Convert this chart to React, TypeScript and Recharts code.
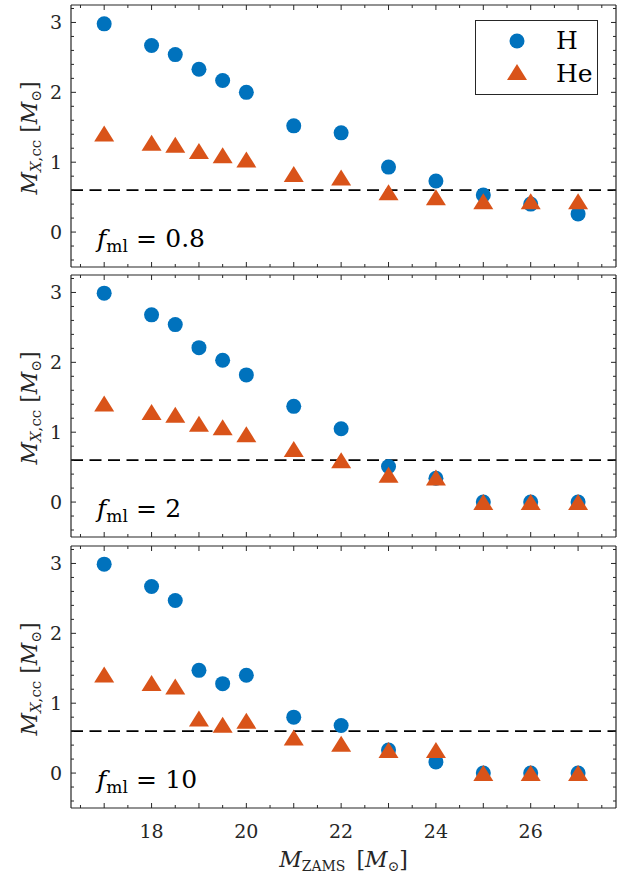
import React from 'react';
import { ScatterChart, Scatter, XAxis, YAxis, ReferenceLine, Legend } from 'recharts';

// ---------- data ----------
const masses = [17, 18, 18.5, 19, 19.5, 20, 21, 22, 23, 24, 25, 26, 27];

const hFml08 = [2.98, 2.67, 2.54, 2.33, 2.17, 2.0, 1.52, 1.42, 0.93, 0.73, 0.53, 0.4, 0.26];
const heFml08 = [1.41, 1.28, 1.25, 1.16, 1.1, 1.04, 0.83, 0.78, 0.57, 0.5, 0.44, 0.44, 0.44];

const hFml2 = [2.99, 2.68, 2.54, 2.21, 2.03, 1.82, 1.37, 1.05, 0.51, 0.34, 0, 0, 0];
const heFml2 = [1.41, 1.29, 1.25, 1.12, 1.07, 0.97, 0.76, 0.6, 0.39, 0.35, 0, 0, 0];

const hFml10 = [2.99, 2.67, 2.47, 1.47, 1.28, 1.4, 0.8, 0.68, 0.33, 0.16, 0, 0, 0];
const heFml10 = [1.41, 1.29, 1.24, 0.78, 0.69, 0.75, 0.51, 0.42, 0.33, 0.33, 0, 0, 0];

const fmlValues = ['0.8', '2', '10'];
const seriesNames = ['H', 'He'];
const threshold = 0.6;

const xDomain = [16.3, 27.8];
const yDomain = [-0.5, 3.25];
const xTicks = [16.5, 17, 17.5, 18, 18.5, 19, 19.5, 20, 20.5, 21, 21.5, 22, 22.5, 23, 23.5, 24, 24.5, 25, 25.5, 26, 26.5, 27, 27.5];
const xTickLabels = [18, 20, 22, 24, 26];
const yTicks = [-0.4, -0.2, 0, 0.2, 0.4, 0.6, 0.8, 1, 1.2, 1.4, 1.6, 1.8, 2, 2.2, 2.4, 2.6, 2.8, 3, 3.2];
const yTickLabels = [0, 1, 2, 3];

// ---------- style ----------
const AX = '#262626';
const BLUE = '#0072BD';
const ORANGE = '#D95319';
const FONT = 'DejaVu Serif';

const isMajor = (v: number) => Math.abs(v - Math.round(v)) < 1e-6;

const CircleShape = (p: any) => <circle cx={p.cx} cy={p.cy} r={7.5} fill={BLUE} />;
const TriShape = (p: any) => (
  <polygon
    points={`${p.cx},${p.cy - 8} ${p.cx + 10},${p.cy + 8} ${p.cx - 10},${p.cy + 8}`}
    fill={ORANGE}
  />
);

const XTick = (p: any, side: 'bottom' | 'top', showLabels: boolean) => {
  const v = p.payload.value;
  const len = isMajor(v) ? 5 : 3;
  const dir = side === 'bottom' ? -1 : 1;
  return (
    <g>
      <line x1={p.x} x2={p.x} y1={p.y} y2={p.y + dir * len} stroke={AX} strokeWidth={1} />
      {showLabels && xTickLabels.some((t) => Math.abs(t - v) < 1e-6) && (
        <text x={p.x} y={p.y + 30} textAnchor="middle" fontSize={19} fill={AX} fontFamily={FONT}>
          {v}
        </text>
      )}
    </g>
  );
};

const YTick = (p: any, side: 'left' | 'right') => {
  const v = p.payload.value;
  const len = isMajor(v) ? 5 : 3;
  const dir = side === 'left' ? 1 : -1;
  return (
    <g>
      <line x1={p.x} x2={p.x + dir * len} y1={p.y} y2={p.y} stroke={AX} strokeWidth={1} />
      {side === 'left' && yTickLabels.some((t) => Math.abs(t - v) < 1e-6) && (
        <text x={p.x - 9} y={p.y} dy="0.35em" textAnchor="end" fontSize={19} fill={AX} fontFamily={FONT}>
          {v}
        </text>
      )}
    </g>
  );
};

const YLabel = (props: any) => {
  const vb = props.viewBox || { x: 0, y: 5, width: 71, height: 262 };
  const cy = vb.y + vb.height / 2 + 2;
  return (
    <text
      transform={`translate(37, ${cy}) rotate(-90)`}
      textAnchor="middle"
      fontFamily={FONT}
      fontSize={22}
      fill={AX}
    >
      <tspan fontStyle="italic">M</tspan>
      <tspan fontSize={15} dy={4}>
        <tspan fontStyle="italic">X</tspan>,cc
      </tspan>
      <tspan dy={-4}>{'\u00a0['}</tspan>
      <tspan fontStyle="italic">M</tspan>
      <tspan fontSize={14} dy={4}>⊙</tspan>
      <tspan dy={-4}>]</tspan>
    </text>
  );
};

const makeBottomLabel = (fml: string, last: boolean) => (props: any) => {
  const vb = props.viewBox || { x: 71, y: 267, width: 545, height: 0 };
  return (
    <g>
      <text x={vb.x + 26} y={vb.y - 20} fontFamily={FONT} fontSize={25} fill="#000">
        <tspan fontStyle="italic">f</tspan>
        <tspan fontSize={17} dy={5}>ml</tspan>
        <tspan dy={-5}>{`\u2004=\u2004${fml}`}</tspan>
      </text>
      {last && (
        <text
          x={vb.x + vb.width / 2}
          y={vb.y + 59}
          textAnchor="middle"
          fontFamily={FONT}
          fontSize={22}
          fill={AX}
        >
          <tspan fontStyle="italic">M</tspan>
          <tspan fontSize={14} dy={4}>ZAMS</tspan>
          <tspan dy={-4}>{'\u2002['}</tspan>
          <tspan fontStyle="italic">M</tspan>
          <tspan fontSize={14} dy={4}>⊙</tspan>
          <tspan dy={-4}>]</tspan>
        </text>
      )}
    </g>
  );
};

const LegendBox = () => (
  <svg width={123} height={75} style={{ display: 'block', fontFamily: FONT }}>
    <rect x={0.5} y={0.5} width={122} height={74} fill="#fff" stroke={AX} strokeWidth={1} />
    <circle cx={42} cy={21} r={7.5} fill={BLUE} />
    <polygon points="42,44 52,60 32,60" fill={ORANGE} />
    <text x={81} y={29} fontFamily={FONT} style={{ fontFamily: FONT }} fontSize={25} fill="#000">{seriesNames[0]}</text>
    <text x={81} y={62} fontFamily={FONT} style={{ fontFamily: FONT }} fontSize={25} fill="#000">{seriesNames[1]}</text>
  </svg>
);

type PanelProps = {
  h: number[];
  he: number[];
  fml: string;
  top: number;
  height: number;
  bottomMargin: number;
  last?: boolean;
  legend?: boolean;
};

function Panel({ h, he, fml, top, height, bottomMargin, last, legend }: PanelProps) {
  const hData = masses.map((m, i) => ({ x: m, y: h[i] }));
  const heData = masses.map((m, i) => ({ x: m, y: he[i] }));
  return (
    <div style={{ position: 'absolute', left: 0, top, width: 630, height }}>
      <ScatterChart width={630} height={height} margin={{ top: 4, right: 13, bottom: bottomMargin, left: 0 }}>
        <XAxis
          xAxisId="b"
          dataKey="x"
          type="number"
          domain={xDomain}
          allowDataOverflow
          ticks={xTicks}
          interval={0}
          tickSize={0}
          tickMargin={0}
          height={1}
          axisLine={{ stroke: AX, strokeWidth: 1.2 }}
          tick={(p: any) => XTick(p, 'bottom', !!last)}
          label={{ content: makeBottomLabel(fml, !!last) }}
        />
        <XAxis
          xAxisId="t"
          orientation="top"
          dataKey="x"
          type="number"
          domain={xDomain}
          allowDataOverflow
          ticks={xTicks}
          interval={0}
          tickSize={0}
          tickMargin={0}
          height={1}
          axisLine={{ stroke: AX, strokeWidth: 1.2 }}
          tick={(p: any) => XTick(p, 'top', false)}
        />
        <YAxis
          yAxisId="l"
          dataKey="y"
          type="number"
          domain={yDomain}
          allowDataOverflow
          ticks={yTicks}
          interval={0}
          tickSize={0}
          tickMargin={0}
          width={71}
          axisLine={{ stroke: AX, strokeWidth: 1.2 }}
          tick={(p: any) => YTick(p, 'left')}
          label={{ content: YLabel }}
        />
        <YAxis
          yAxisId="r"
          orientation="right"
          dataKey="y"
          type="number"
          domain={yDomain}
          allowDataOverflow
          ticks={yTicks}
          interval={0}
          tickSize={0}
          tickMargin={0}
          width={1}
          axisLine={{ stroke: AX, strokeWidth: 1.2 }}
          tick={(p: any) => YTick(p, 'right')}
        />
        <ReferenceLine
          xAxisId="b"
          yAxisId="l"
          y={threshold}
          stroke="#000"
          strokeWidth={1.8}
          strokeDasharray="12 6.5"
        />
        <Scatter
          name={seriesNames[0]}
          xAxisId="b"
          yAxisId="l"
          data={hData}
          shape={CircleShape}
          isAnimationActive={false}
        />
        <Scatter
          name={seriesNames[1]}
          xAxisId="b"
          yAxisId="l"
          data={heData}
          shape={TriShape}
          isAnimationActive={false}
        />
        {legend && (
          <Legend
            layout="horizontal"
            verticalAlign="middle"
            align="center"
            content={() => <LegendBox />}
            wrapperStyle={{ position: 'absolute', left: 475, top: 20, width: 123, height: 75 }}
          />
        )}
      </ScatterChart>
    </div>
  );
}

export default function App() {
  return (
    <div style={{ position: 'absolute', left: 0, top: 0, width: 630, height: 878, background: '#fff' }}>
      <Panel h={hFml08} he={heFml08} fml={fmlValues[0]} top={0} height={272} bottomMargin={4} legend />
      <Panel h={hFml2} he={heFml2} fml={fmlValues[1]} top={270} height={272} bottomMargin={4} />
      <Panel h={hFml10} he={heFml10} fml={fmlValues[2]} top={541} height={337} bottomMargin={69} last />
    </div>
  );
}
